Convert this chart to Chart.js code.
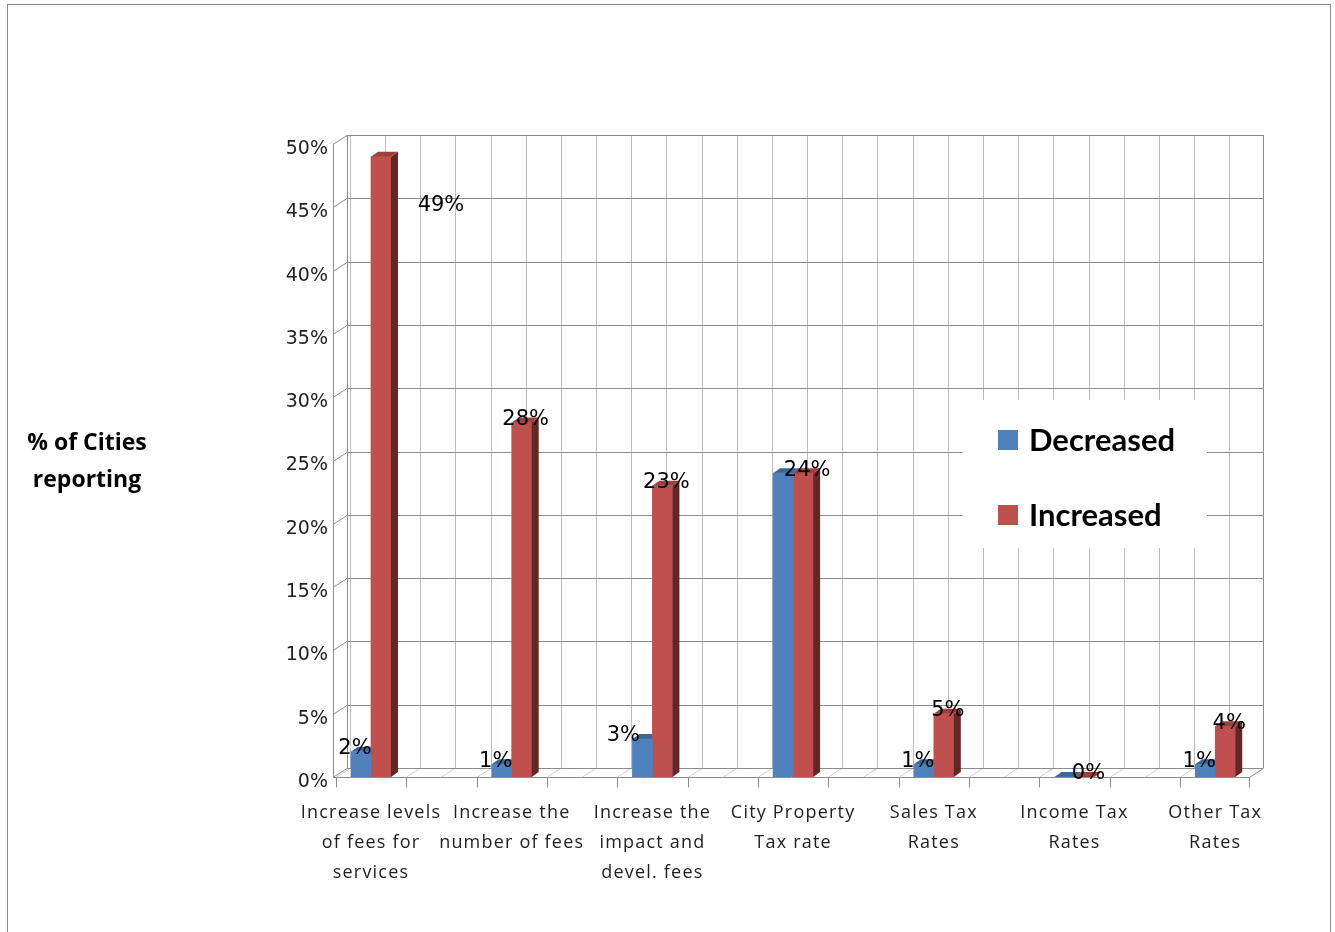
<!DOCTYPE html>
<html><head><meta charset="utf-8">
<script src="https://cdn.jsdelivr.net/npm/chart.js@4.4.1/dist/chart.umd.min.js"></script>
<style>html,body{margin:0;padding:0;background:#fff;overflow:hidden} canvas{display:block}</style>
</head><body>
<canvas id="c" width="1335" height="932"></canvas>
<script>
// ---- data ----
const categories = [
  ["Increase levels", "of fees for", "services"],
  ["Increase the", "number of fees"],
  ["Increase the", "impact and", "devel. fees"],
  ["City Property", "Tax rate"],
  ["Sales Tax", "Rates"],
  ["Income Tax", "Rates"],
  ["Other Tax", "Rates"]
];
const decreased = [2, 1, 3, 24, 1, 0, 1];
const increased = [49, 28, 23, 24, 5, 0, 4];
const yTickValues = [0, 5, 10, 15, 20, 25, 30, 35, 40, 45, 50];
const seriesNames = ["Decreased", "Increased"];
const yTitle = ["% of Cities", "reporting"];

// ---- styles ----
const FACE = [
  { front: '#4F81BD', top: '#3C6797', side: '#2E5078' },
  { front: '#C0504D', top: '#9C403E', side: '#632826' }
];
const DX = 14, DY = 9;      // wall depth
const BX = 7, BY = 5;       // bar depth
const labelNudge = { '1-0': [56, 52], '0-2': [-13, 0] };

function seg(ctx, x1, y1, x2, y2) { ctx.beginPath(); ctx.moveTo(x1, y1); ctx.lineTo(x2, y2); ctx.stroke(); }
function poly(ctx, pts, fill) { ctx.beginPath(); ctx.moveTo(pts[0][0], pts[0][1]); for (let i = 1; i < pts.length; i++) ctx.lineTo(pts[i][0], pts[i][1]); ctx.closePath(); ctx.fillStyle = fill; ctx.fill(); }
function faces(ctx, el, f) {
  const l = el.x - el.width / 2, r = el.x + el.width / 2, t = Math.min(el.y, el.base), b = el.base;
  poly(ctx, [[r, t], [r + BX, t - BY], [r + BX, b - BY], [r, b]], f.side);
  poly(ctx, [[l, t], [l + BX, t - BY], [r + BX, t - BY], [r, t]], f.top);
}

const plugin3d = {
  id: 'plugin3d',
  beforeDraw(chart) {
    const ctx = chart.ctx;
    ctx.save();
    ctx.fillStyle = '#fff'; ctx.fillRect(0, 0, chart.width, chart.height);
    ctx.strokeStyle = '#8a8a8a'; ctx.lineWidth = 1;
    ctx.strokeRect(7.5, 4.5, 1323, 1000);
    ctx.restore();
    if ('letterSpacing' in ctx) ctx.letterSpacing = '1.2px';   // for the category labels
  },
  beforeDatasetsDraw(chart) {
    const { ctx, chartArea: a, scales: { x, y } } = chart;
    if ('letterSpacing' in ctx) ctx.letterSpacing = '0px';
    ctx.save();
    ctx.lineWidth = 1;
    const start = Math.ceil(x.min * 4) / 4;
    for (let v = start; v <= x.max + 1e-9; v += 0.25) {
      const px = Math.round(x.getPixelForValue(v)) + 0.5;
      ctx.strokeStyle = '#bdbdbd';
      seg(ctx, px + DX, a.top - DY, px + DX, a.bottom - DY);
      ctx.strokeStyle = '#cfcfcf';
      seg(ctx, px, a.bottom, px + DX, a.bottom - DY);
    }
    ctx.strokeStyle = '#8c8c8c';
    y.ticks.forEach(t => {
      const py = Math.round(y.getPixelForValue(t.value)) + 0.5;
      seg(ctx, a.left + DX, py - DY, a.right + DX, py - DY);
      seg(ctx, a.left, py, a.left + DX, py - DY);
    });
    const L = Math.round(a.left) + 0.5, R = Math.round(a.right) + 0.5, B = Math.round(a.bottom) + 0.5;
    seg(ctx, L, a.top, L, a.bottom);
    seg(ctx, L + DX, a.top - DY, L + DX, a.bottom - DY);
    seg(ctx, R + DX, a.top - DY, R + DX, a.bottom - DY);
    seg(ctx, L, B, R, B);
    seg(ctx, R, B, R + DX, B - DY);
    for (let v = start; v <= x.max + 1e-9; v += 0.5) {
      const px = Math.round(x.getPixelForValue(v)) + 0.5;
      seg(ctx, px, B, px, B + 10);
    }
    seg(ctx, R, B, R, B + 10);
    chart.getDatasetMeta(0).data.forEach(el => faces(ctx, el, FACE[0]));
    ctx.restore();
  },
  afterDatasetsDraw(chart) {
    const { ctx } = chart;
    ctx.save();
    chart.getDatasetMeta(1).data.forEach(el => faces(ctx, el, FACE[1]));
    ctx.font = '21px "DejaVu Sans"';
    ctx.fillStyle = '#000';
    ctx.textAlign = 'center';
    ctx.textBaseline = 'middle';
    [decreased, increased].forEach((arr, di) => {
      chart.getDatasetMeta(di).data.forEach((el, j) => {
        if (di === 0 && decreased[j] === increased[j]) return;
        const n = labelNudge[di + '-' + j] || [0, 0];
        const lx = el.x + (di === 0 ? -6 : 4) + n[0];
        const ly = el.y - 3 + n[1];
        ctx.fillText(arr[j] + '%', lx, ly);
      });
    });
    ctx.restore();
  },
  afterDraw(chart) {
    const { ctx, chartArea: a, scales: { y } } = chart;
    ctx.save();
    ctx.font = '19px "DejaVu Sans"';
    ctx.fillStyle = '#222';
    ctx.textAlign = 'right';
    ctx.textBaseline = 'middle';
    y.ticks.forEach(t => ctx.fillText(t.value + '%', a.left - 5, y.getPixelForValue(t.value) + 5));
    const bl = a.right - 286, bt = a.top + 256, bw = 244, bh = 148;
    ctx.fillStyle = '#fff';
    ctx.fillRect(bl, bt, bw, bh);
    ctx.font = 'bold 31px Lato';
    ctx.textAlign = 'left';
    chart.data.datasets.forEach((ds, i) => {
      const cy = bt + 40 + i * 75;
      ctx.fillStyle = ds.backgroundColor;
      ctx.fillRect(bl + 35, cy - 10, 20, 20);
      ctx.fillStyle = '#000';
      ctx.fillText(ds.label, bl + 66, cy + 1);
    });
    ctx.font = 'bold 23px "Open Sans"';
    ctx.textAlign = 'center';
    const cy = (a.top + a.bottom) / 2;
    ctx.fillText(yTitle[0], 87, cy - 17);
    ctx.fillText(yTitle[1], 87, cy + 20);
    ctx.restore();
  }
};

new Chart(document.getElementById('c'), {
  type: 'bar',
  data: {
    datasets: [
      { label: seriesNames[0], data: decreased.map((v, i) => ({ x: i, y: v })), backgroundColor: FACE[0].front, barThickness: 20 },
      { label: seriesNames[1], data: increased.map((v, i) => ({ x: i, y: v })), backgroundColor: FACE[1].front, barThickness: 20 }
    ]
  },
  options: {
    responsive: false,
    animation: false,
    devicePixelRatio: 1,
    layout: { padding: { left: 0, right: 86, top: 144, bottom: 0 } },
    plugins: { legend: { display: false }, tooltip: { enabled: false } },
    scales: {
      x: {
        type: 'linear', min: -0.27, max: 6.24, offset: false, bounds: 'data',
        grid: { display: false, drawTicks: false }, border: { display: false },
        afterBuildTicks: s => { s.ticks = categories.map((_, i) => ({ value: i })); },
        afterFit: s => { s.height = 155; },
        ticks: {
          autoSkip: false, maxRotation: 0, minRotation: 0, padding: 21,
          color: '#1e1e1e', font: { family: 'Open Sans', size: 18, lineHeight: 1.667 },
          callback: (v, i) => categories[i]
        }
      },
      y: {
        min: 0, max: 50,
        grid: { display: false, drawTicks: false }, border: { display: false },
        afterBuildTicks: s => { s.ticks = yTickValues.map(v => ({ value: v })); },
        afterFit: s => { s.width = 333; },
        ticks: { display: false }
      }
    }
  },
  plugins: [plugin3d]
});
</script>
</body></html>
